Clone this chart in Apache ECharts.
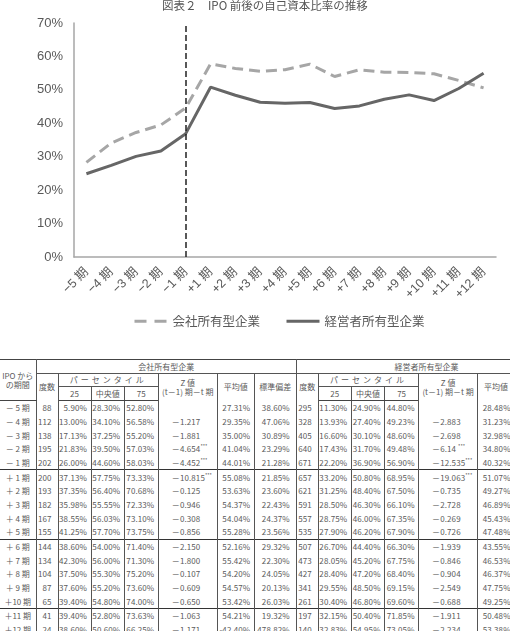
<!DOCTYPE html>
<html><head><meta charset="utf-8">
<script src="https://cdn.jsdelivr.net/npm/echarts@6/dist/echarts.min.js"></script>
<style>
html,body{margin:0;padding:0;background:#fff;width:510px;height:631px;overflow:hidden;}
#chart{position:absolute;left:0;top:0;width:510px;height:355px;}
#tbl{position:absolute;left:0;top:359px;width:510px;height:272px;overflow:hidden;}
table{border-collapse:collapse;table-layout:fixed;width:557px;font-family:'Noto Sans CJK JP',sans-serif;font-size:8px;color:#5a5a5a;}
td{padding:0;height:13.7px;line-height:9px;white-space:nowrap;overflow:visible;border-left:1px solid #555;border-right:1px solid #555;}
tr.h td{height:12.6px;}
td.first{border-left:none;text-align:center;}
td.c{text-align:center;}
td.r{text-align:right;padding-right:3.5px;letter-spacing:0.1px;}
td.r2{text-align:right;padding-right:6px;letter-spacing:0.1px;}
td.z{text-align:left;padding-left:13px;letter-spacing:0.1px;}
tr.top td{border-top:1px solid #444;}
td.bb{border-bottom:1px solid #555;}
tr.hb td{border-bottom:1px solid #444;}
tr.sep td{border-top:1px solid #333;}
sup{font-size:5px;line-height:0;vertical-align:4px;letter-spacing:0;}
.sp{letter-spacing:3px;}
</style>
</head><body>
<div id="chart"></div>
<div id="tbl"></div>
<script>
// ---- data ----
const categories = ['−5 期','−4 期','−3 期','−2 期','−1 期','+1 期','+2 期','+3 期','+4 期','+5 期','+6 期','+7 期','+8 期','+9 期','+10 期','+11 期','+12 期'];
const periodLabels = ['－ 5 期','－ 4 期','－ 3 期','－ 2 期','－ 1 期','＋ 1 期','＋ 2 期','＋ 3 期','＋ 4 期','＋ 5 期','＋ 6 期','＋ 7 期','＋ 8 期','＋ 9 期','＋10 期','＋11 期','＋12 期'];
const seriesNames = ['会社所有型企業','経営者所有型企業'];
const yTicks = [0,10,20,30,40,50,60,70];

// 会社所有型企業
const coCount  = [88,112,138,195,202,200,193,182,167,155,144,134,104,87,65,41,24];
const coP25    = [5.90,13.00,17.13,21.83,26.00,37.13,37.35,35.98,38.55,41.25,38.60,42.30,37.50,37.60,39.40,39.40,38.60];
const coMedian = [28.30,34.10,37.25,39.50,44.60,57.75,56.40,55.55,56.03,57.70,54.00,56.00,55.30,55.20,54.80,52.80,50.60];
const coP75    = [52.80,56.58,55.20,57.03,58.03,73.33,70.68,72.33,73.10,73.75,71.40,71.30,75.20,73.60,74.00,73.63,66.25];
const coZ      = ['','－1.217','－1.881','－4.654***','－4.452***','－10.815***','－0.125','－0.946','－0.308','－0.856','－2.150','－1.800','－0.107','－0.609','－0.650','－1.063','－1.171'];
const coMean   = [27.31,29.35,35.00,41.04,44.01,55.08,53.63,54.37,54.04,55.28,52.16,55.42,54.20,54.57,53.42,54.21,-42.40];
const coSD     = [38.60,47.06,30.89,23.29,21.28,21.85,23.60,22.43,24.37,23.56,29.32,22.30,24.05,20.13,26.03,19.32,478.82];

// 経営者所有型企業
const mgCount  = [295,328,405,640,671,657,621,591,557,535,507,473,427,341,261,197,140];
const mgP25    = [11.30,13.93,16.60,17.43,22.20,33.20,31.25,28.50,28.75,27.90,26.70,28.05,28.40,29.55,30.40,32.15,32.83];
const mgMedian = [24.90,27.40,30.10,31.70,36.90,50.80,48.40,46.30,46.00,46.20,44.40,45.20,47.20,48.50,46.80,50.40,54.95];
const mgP75    = [44.80,49.23,48.60,49.48,56.90,68.95,67.50,66.10,67.35,67.90,66.30,67.75,68.40,69.15,69.60,71.85,73.05];
const mgZ      = ['','－2.883','－2.698','－6.14 ***','－12.535***','－19.063***','－0.735','－2.728','－0.269','－0.726','－1.939','－0.846','－0.904','－2.549','－0.688','－1.911','－2.234'];
const mgMean   = [28.48,31.23,32.98,34.80,40.32,51.07,49.27,46.89,45.43,47.48,43.55,46.53,46.37,47.75,49.25,50.48,53.38];

// ---- chart ----
const FONT = "'Liberation Sans','Noto Sans CJK JP',sans-serif";
const JP = "'Noto Sans CJK JP',sans-serif";
const chart = echarts.init(document.getElementById('chart'), null, {renderer:'canvas'});
chart.setOption({
  animation:false,
  backgroundColor:'#fff',
  title:{text:'図表２　IPO 前後の自己資本比率の推移', left:162, top:0, padding:0,
    textStyle:{fontSize:11.5, fontWeight:'normal', color:'#555', fontFamily:JP}},
  grid:{left:74, right:14, top:23, bottom:98},
  legend:{left:133, top:315, padding:0, itemWidth:33, itemHeight:14, itemGap:25,
    itemStyle:{opacity:0},
    textStyle:{fontSize:12.5, color:'#595959', fontFamily:JP},
    data:[
      {name:seriesNames[0], lineStyle:{type:[12,8], width:3, color:'#a6a6a6'}},
      {name:seriesNames[1], lineStyle:{type:'solid', width:3, color:'#666'}}
    ]},
  xAxis:{type:'category', data:categories, boundaryGap:true,
    axisLine:{show:true, lineStyle:{color:'#a6a6a6', width:1.5}},
    axisTick:{show:false},
    axisLabel:{rotate:45, margin:13, fontSize:12.5, color:'#595959', fontFamily:FONT, interval:0}},
  yAxis:{type:'value', min:yTicks[0], max:yTicks[yTicks.length-1], interval:10,
    axisLine:{show:true, lineStyle:{color:'#a6a6a6', width:1.5}},
    axisTick:{show:false}, splitLine:{show:false},
    axisLabel:{formatter:'{value}%', fontSize:13, margin:11, color:'#595959', fontFamily:FONT}},
  series:[
    {name:seriesNames[0], type:'line', data:coMedian, symbol:'none', showSymbol:false, z:3,
     lineStyle:{color:'#a6a6a6', width:3, type:[11,6]}, itemStyle:{color:'#a6a6a6'}},
    {name:seriesNames[1], type:'line', data:mgMedian, symbol:'none', showSymbol:false, z:4,
     lineStyle:{color:'#666', width:3, type:'solid'}, itemStyle:{color:'#666'},
     markLine:{silent:true, symbol:['none','none'], label:{show:false},
       lineStyle:{color:'#222', type:[6,3], width:1.5},
       data:[{xAxis:categories[4]}]}}
  ]
});

// ---- table ----
function pct(v){ return v.toFixed(2)+'%'; }
function zcell(s){ const m = s.match(/^(.*?)(\*+)$/); return m ? m[1]+'<sup>'+m[2]+'</sup>' : s; }
const groupHead = '<td rowspan="2" class="c">度数</td><td colspan="3" class="c bb"><span class="sp">パーセンタイル</span></td>'+
  '<td rowspan="2" class="c">Z 値<br>(t－1) 期－t 期</td><td rowspan="2" class="c">平均値</td><td rowspan="2" class="c">標準偏差</td>';
const sub = '<td class="c">25</td><td class="c">中央値</td><td class="c">75</td>';
let h = '<table><colgroup><col style="width:36px">';
const grp = [22,33,33.3,34,59,37,42];
for (let k=0;k<2;k++) grp.forEach(w=>{ h+='<col style="width:'+w+'px">'; });
h += '</colgroup>';
h += '<tr class="top h"><td rowspan="3" class="first" style="border-bottom:1px solid #444">IPO から<br>の期間</td><td colspan="7" class="c bb">'+seriesNames[0]+'</td><td colspan="7" class="c bb">'+seriesNames[1]+'</td></tr>';
h += '<tr class="h">'+groupHead+groupHead+'</tr>';
h += '<tr class="hb h">'+sub+sub+'</tr>';
for (let i=0;i<periodLabels.length;i++){
  const cls = (i===5||i===10||i===15) ? ' class="sep"' : '';
  h += '<tr'+cls+'><td class="first">'+periodLabels[i]+'</td>'+
    '<td class="r2">'+coCount[i]+'</td><td class="r">'+pct(coP25[i])+'</td><td class="r">'+pct(coMedian[i])+'</td><td class="r">'+pct(coP75[i])+'</td>'+
    '<td class="z">'+zcell(coZ[i])+'</td><td class="r">'+pct(coMean[i])+'</td><td class="r2">'+pct(coSD[i])+'</td>'+
    '<td class="r2">'+mgCount[i]+'</td><td class="r">'+pct(mgP25[i])+'</td><td class="r">'+pct(mgMedian[i])+'</td><td class="r">'+pct(mgP75[i])+'</td>'+
    '<td class="z">'+zcell(mgZ[i])+'</td><td class="r">'+pct(mgMean[i])+'</td><td class="r2"></td></tr>';
}
h += '</table>';
document.getElementById('tbl').innerHTML = h;
</script>
</body></html>
